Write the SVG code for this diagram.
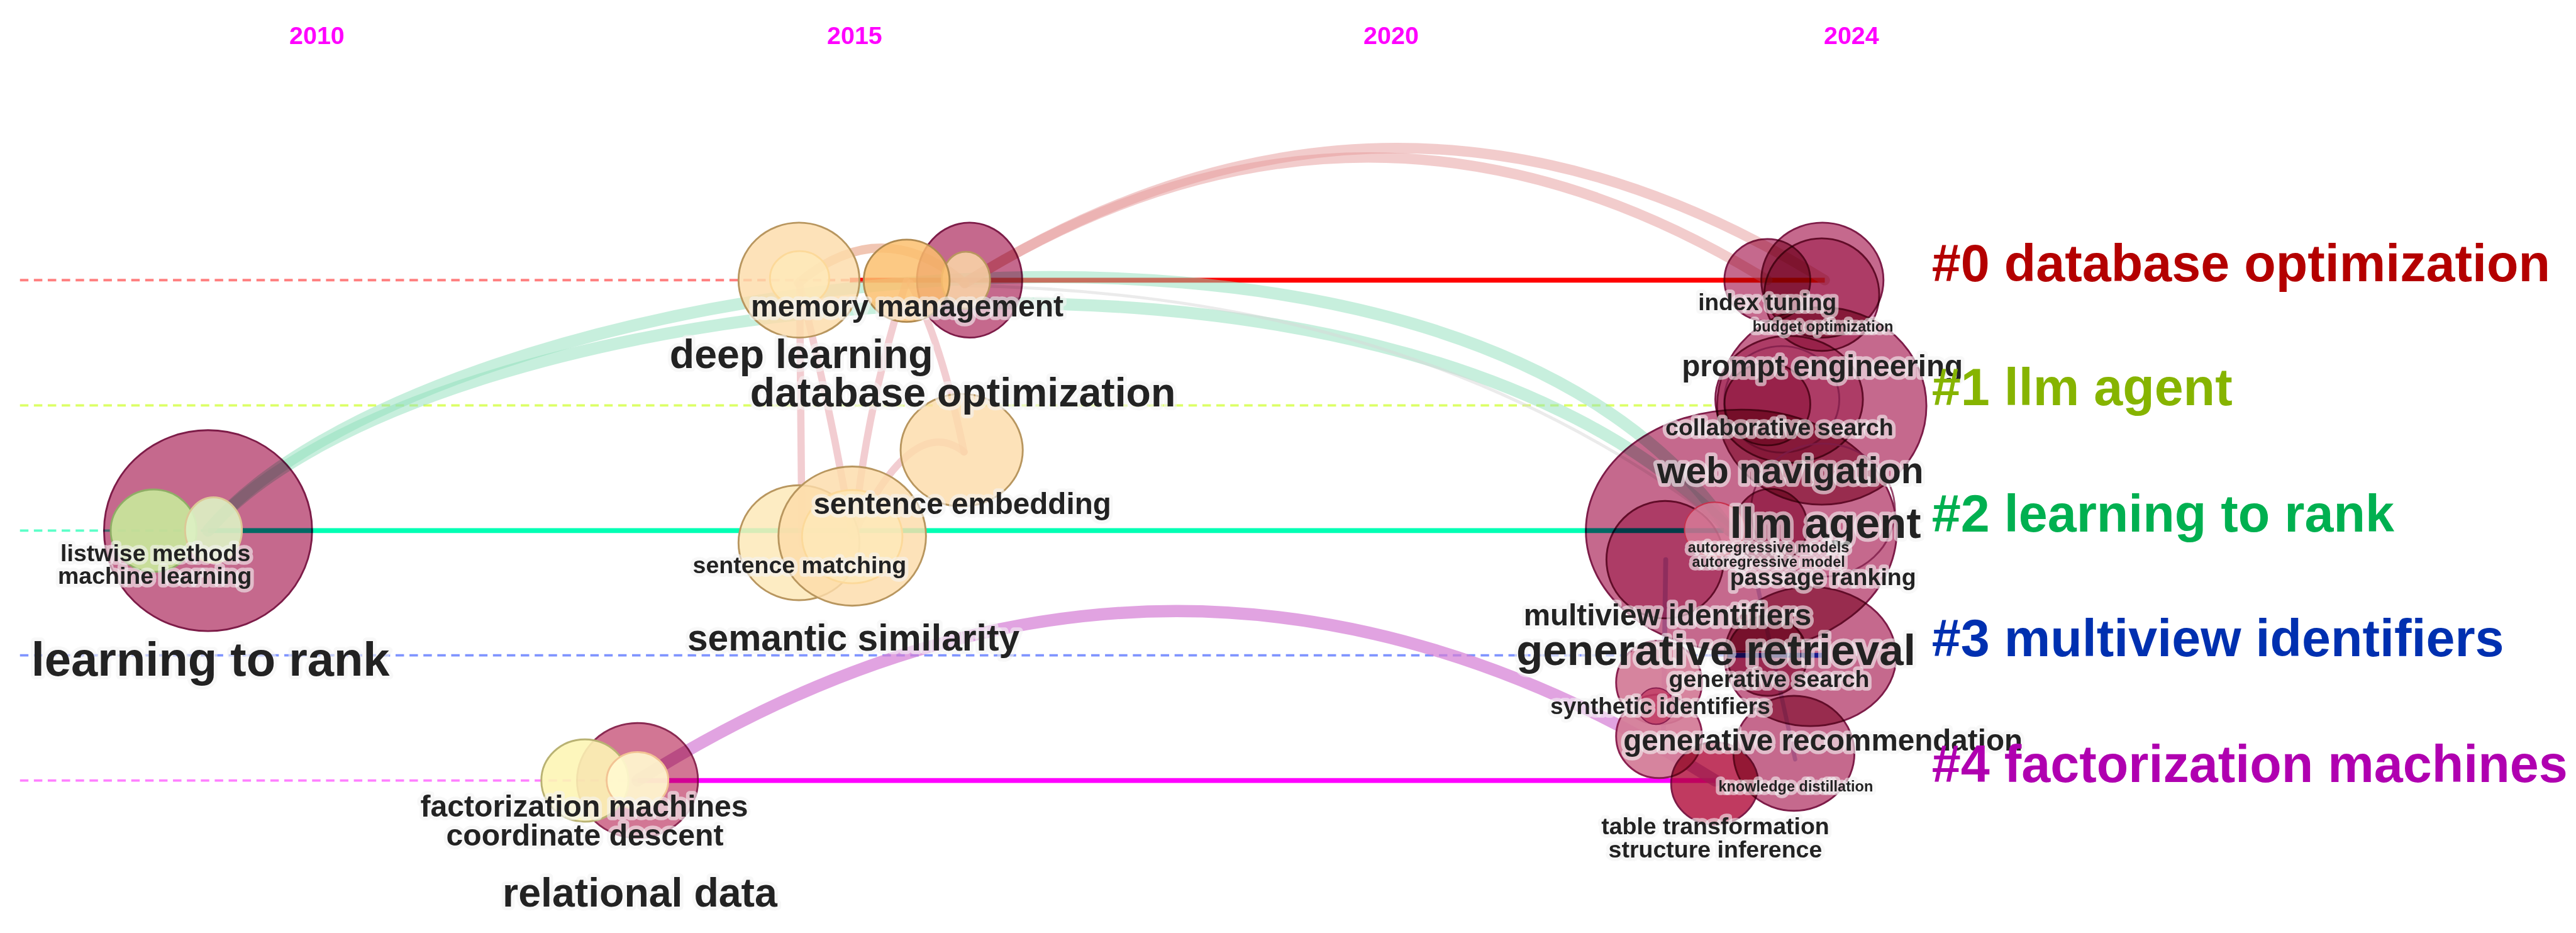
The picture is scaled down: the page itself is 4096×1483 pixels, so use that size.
<svg xmlns="http://www.w3.org/2000/svg" width="4096" height="1483" viewBox="0 0 4096 1483">
<defs>
<style>
.yr{font-family:"Liberation Sans",Arial,sans-serif;font-weight:bold;font-size:41px;fill:#ff00ff;text-anchor:middle}
.cl{font-family:"Liberation Sans",Arial,sans-serif;font-weight:bold;font-size:86px}
.lb{font-family:"Liberation Sans",Arial,sans-serif;font-weight:bold;fill:#222;text-anchor:middle;stroke:#f4f4f4;stroke-opacity:.6;stroke-width:12;stroke-linejoin:round;paint-order:stroke}
.dash{fill:none;stroke-width:4;stroke-dasharray:14 9}
.sol{fill:none;stroke-width:8}
.pinkarc{fill:none;stroke:#e59a9a;stroke-opacity:.5;stroke-width:17;stroke-linecap:round}
.pl{fill:none;stroke:#e7a4ac;stroke-opacity:.55;stroke-width:12;stroke-linecap:round}
.grn{fill:none;stroke:#8fe0bc;stroke-opacity:.5;stroke-width:20;stroke-linecap:round}
.pk{fill:#c5698d;stroke:#7d1c48;stroke-width:3;mix-blend-mode:multiply}
.pk2{fill:#d27694;stroke:#8a2a52;stroke-width:3;mix-blend-mode:multiply}
.dk{fill:#e090b8;stroke:#7d1c48;stroke-width:3;mix-blend-mode:multiply}
.dk2{fill:#c86090;stroke:#7d1c48;stroke-width:3;mix-blend-mode:multiply}
.rd{fill:#c03a60;stroke:#7d1c48;stroke-width:3;mix-blend-mode:multiply}
.ring{fill:none;stroke:#7d1c48;stroke-width:3;stroke-opacity:.8}
.lp{fill:#d27a96;fill-opacity:.92;stroke:#8a2050;stroke-width:3}
.or{fill:#fcdcaa;fill-opacity:.82;stroke:#b8965f;stroke-width:3}
.or2{fill:#fbbf6f;fill-opacity:.85;stroke:#b08a50;stroke-width:3}
.lt{fill:#fde9ba;fill-opacity:.75;stroke:#fcd99a;stroke-width:3}
.lt2{fill:#fde9b9;fill-opacity:.85;stroke:#b8965f;stroke-width:3}
.yl{fill:#fdf5b5;fill-opacity:.9;stroke:#b9b273;stroke-width:3}
.yl2{fill:#fff8cf;fill-opacity:.92;stroke:#f2c394;stroke-width:3}
.gr{fill:#c8e49b;fill-opacity:.95;stroke:#8fad66;stroke-width:3}
.gr2{fill:#dcf0c3;fill-opacity:.92;stroke:#dcc896;stroke-width:3}
</style>
</defs>
<g transform="scale(0.961728)">
<rect x="0" y="0" width="4259" height="1542" fill="#ffffff"/>

<g id="years">
<text class="yr" x="524" y="73">2010</text>
<text class="yr" x="1413" y="73">2015</text>
<text class="yr" x="2300" y="73">2020</text>
<text class="yr" x="3061" y="73">2024</text>
</g>

<g id="timelines">
<path class="dash" stroke="#ff7f7f" d="M33,463H1405"/>
<path class="dash" stroke="#dcff66" d="M33,670H2836"/>
<path class="dash" stroke="#5cffc8" d="M33,877H344"/>
<path class="dash" stroke="#7f94ff" d="M33,1083H2856"/>
<path class="dash" stroke="#ff80ff" d="M33,1290H1054"/>
<path class="sol" stroke="#ff0000" d="M1405,463H3017"/>
<path class="sol" stroke="#00ffb4" d="M344,877H2850"/>
<path class="sol" stroke="#2040ff" d="M2856,1083H3019"/>
<path class="sol" stroke="#ff00ff" stroke-width="9" d="M1054,1290H2836"/>
</g>

<g id="connectors">
<path class="grn" d="M344,877C700,450 2400,200 2860,877"/>
<path class="grn" d="M344,877C700,470 2300,290 2860,877"/>
<path d="M1595,472C2000,480 2450,560 2860,877" fill="none" stroke="#d8d8d8" stroke-opacity=".5" stroke-width="5"/>
<path class="pinkarc" d="M1595,468Q2306,24 3017,463"/>
<path class="pinkarc" d="M1595,468Q2258,55 2922,463"/>
<path d="M1320,468Q1457,352 1595,468" fill="none" stroke="#e8a080" stroke-opacity=".6" stroke-width="15" stroke-linecap="round"/>
<path class="pl" d="M1322,470L1326,900"/>
<path class="pl" d="M1322,470Q1375,680 1409,886"/>
<path class="pl" d="M1499,464Q1430,680 1412,886"/>
<path class="pl" d="M1505,468Q1555,560 1594,747"/>
<path class="pl" d="M1594,747Q1510,680 1410,886"/>
<path d="M1054,1290Q1945,730 2836,1290" fill="none" stroke="#d580d5" stroke-opacity=".72" stroke-width="20" stroke-linecap="round"/>
<path d="M2754,925L2750,1220" fill="none" stroke="#8050c0" stroke-opacity=".35" stroke-width="8" stroke-linecap="round"/>
<path d="M2905,965L2968,1255" fill="none" stroke="#8050c0" stroke-opacity=".3" stroke-width="7" stroke-linecap="round"/>
</g>

<g id="node-learning-to-rank"><ellipse class="pk" cx="344" cy="877" rx="172" ry="166"/></g>
<g id="node-listwise-methods"><ellipse class="gr" cx="254" cy="877" rx="71" ry="68"/></g>
<g id="node-machine-learning"><ellipse class="gr2" cx="353" cy="876" rx="47" ry="54"/></g>

<g id="node-database-optimization"><ellipse class="pk" cx="1603" cy="463" rx="87" ry="95"/><ellipse class="or" cx="1597" cy="463" rx="40" ry="47"/></g>
<g id="node-deep-learning"><ellipse class="or" cx="1321" cy="463" rx="100" ry="95"/><ellipse class="lt" cx="1322" cy="460" rx="49" ry="45"/></g>
<g id="node-memory-management"><ellipse class="or2" cx="1499" cy="464" rx="71" ry="68"/></g>

<g id="node-sentence-embedding"><ellipse class="or" cx="1590" cy="744" rx="101" ry="93"/></g>
<g id="node-sentence-matching"><ellipse class="lt2" cx="1321" cy="897" rx="100" ry="95"/></g>
<g id="node-semantic-similarity"><ellipse class="or" fill-opacity=".75" cx="1409" cy="886" rx="122" ry="115"/><ellipse class="lt" fill-opacity=".4" cx="1409" cy="887" rx="83" ry="77"/></g>

<g id="node-relational-data"><ellipse class="pk2" cx="1054" cy="1290" rx="100" ry="95"/></g>
<g id="node-factorization-machines"><ellipse class="yl" cx="967" cy="1290" rx="72" ry="68"/></g>
<g id="node-coordinate-descent"><ellipse class="yl2" cx="1054" cy="1290" rx="51" ry="47"/></g>

<g id="node-index-tuning"><ellipse class="pk" cx="2922" cy="463" rx="71" ry="68"/></g>
<g id="node-budget-optimization"><ellipse class="pk" cx="3013" cy="463" rx="101" ry="95"/><ellipse class="dk" cx="3012" cy="487" rx="95" ry="93"/></g>
<g id="node-prompt-engineering"><ellipse class="pk" cx="3012" cy="671" rx="173" ry="163"/><ellipse class="dk" cx="2958" cy="660" rx="122" ry="105"/><ellipse class="ring" cx="2946" cy="660" rx="95" ry="88"/><ellipse class="dk" cx="2922" cy="668" rx="71" ry="68"/></g>
<g id="node-llm-agent"><ellipse class="pk" cx="2879" cy="877" rx="257" ry="200"/><ellipse class="ring" cx="3014" cy="843" rx="119" ry="110"/><ellipse class="dk2" cx="2928" cy="870" rx="60" ry="62"/></g>
<g id="node-multiview-identifiers"><ellipse class="dk" cx="2753" cy="925" rx="97" ry="97"/></g>
<g id="node-autoregressive-models"><ellipse cx="2835" cy="875" rx="50" ry="45" fill="#d97e9b" fill-opacity=".8" stroke="#c8304c" stroke-width="2"/></g>
<g id="node-generative-retrieval"><ellipse class="pk" cx="2993" cy="1085" rx="142" ry="115"/><ellipse class="dk2" cx="2922" cy="1084" rx="66" ry="66"/></g>
<g id="node-generative-search"><ellipse class="lp" cx="2743" cy="1128" rx="71" ry="69"/></g>
<g id="node-synthetic-identifiers"><ellipse class="lp" cx="2743" cy="1217" rx="71" ry="69"/><ellipse cx="2738" cy="1167" rx="30" ry="30" fill="#c03a62" fill-opacity=".8" stroke="#8a2050" stroke-width="2"/></g>
<g id="node-generative-recommendation"><ellipse class="pk" cx="2966" cy="1245" rx="100" ry="95"/></g>
<g id="node-table-transformation"><ellipse class="rd" cx="2835" cy="1295" rx="72" ry="68"/></g>

<g id="labels">
<text class="lb" x="257" y="927" font-size="39">listwise methods</text>
<text class="lb" x="256" y="965" font-size="39">machine learning</text>
<text class="lb" x="348" y="1117" font-size="79">learning to rank</text>
<text class="lb" x="1500" y="523" font-size="50">memory management</text>
<text class="lb" x="1325" y="608" font-size="67">deep learning</text>
<text class="lb" x="1592" y="672" font-size="67">database optimization</text>
<text class="lb" x="1591" y="850" font-size="49.5">sentence embedding</text>
<text class="lb" x="1322" y="947" font-size="39">sentence matching</text>
<text class="lb" x="1411" y="1075" font-size="61">semantic similarity</text>
<text class="lb" x="966" y="1350" font-size="50">factorization machines</text>
<text class="lb" x="967" y="1398" font-size="50">coordinate descent</text>
<text class="lb" x="1058" y="1498" font-size="67">relational data</text>
<text class="lb" x="2922" y="513" font-size="38.5">index tuning</text>
<text class="lb" x="3014" y="548" font-size="24.5">budget optimization</text>
<text class="lb" x="3013" y="622" font-size="49.5">prompt engineering</text>
<text class="lb" x="2942" y="720" font-size="39">collaborative search</text>
<text class="lb" x="2960" y="799" font-size="61">web navigation</text>
<text class="lb" x="3018" y="889" font-size="72">llm agent</text>
<text class="lb" x="2924" y="913" font-size="24.5">autoregressive models</text>
<text class="lb" x="2924" y="937" font-size="24.5">autoregressive model</text>
<text class="lb" x="3014" y="967" font-size="39">passage ranking</text>
<text class="lb" x="2757" y="1034" font-size="49.5">multiview identifiers</text>
<text class="lb" x="2837" y="1099" font-size="72">generative retrieval</text>
<text class="lb" x="2925" y="1135" font-size="39">generative search</text>
<text class="lb" x="2745" y="1180" font-size="38.5">synthetic identifiers</text>
<text class="lb" x="3014" y="1240" font-size="49.5">generative recommendation</text>
<text class="lb" x="2969" y="1308" font-size="24.5">knowledge distillation</text>
<text class="lb" x="2836" y="1379" font-size="39">table transformation</text>
<text class="lb" x="2836" y="1417" font-size="39">structure inference</text>
</g>

<g id="cluster-labels">
<text class="cl" x="3194" y="465" fill="#b40000">#0 database optimization</text>
<text class="cl" x="3194" y="670" fill="#86b400">#1 llm agent</text>
<text class="cl" x="3194" y="879" fill="#00b050">#2 learning to rank</text>
<text class="cl" x="3194" y="1084" fill="#0030b0">#3 multiview identifiers</text>
<text class="cl" x="3194" y="1292" fill="#b000b0">#4 factorization machines</text>
</g>
</g>
</svg>
